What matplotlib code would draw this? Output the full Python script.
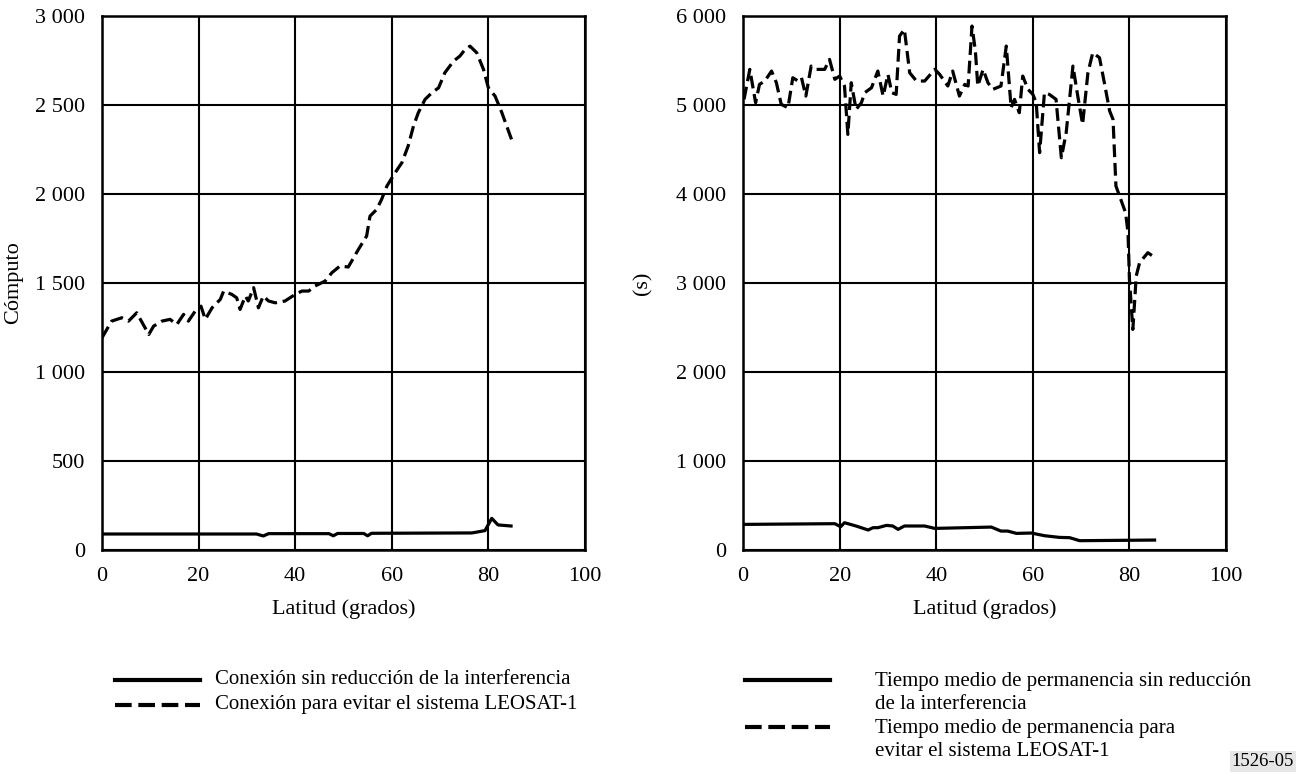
import matplotlib
matplotlib.use("Agg")
import matplotlib.pyplot as plt
from matplotlib.lines import Line2D

plt.rcParams['font.family'] = ['Liberation Serif', 'DejaVu Serif']
plt.rcParams['font.size'] = 16

# left chart: conexiones (count) vs latitude
lat_l_dash = [0, 2, 4.1, 5.5, 7.2, 9.7, 10.7, 12.4, 14.1, 15.5, 16.9, 17.9, 19.3, 20.5, 21.4,
              22.8, 24.5, 25.2, 26.9, 27.9, 28.6, 29.7, 30.3, 31.4, 32.4, 33.4, 34.5, 35.9,
              37.9, 40.0, 41.4, 42.8, 44.1, 46.2, 47.6, 49.3, 51.0, 53.1, 54.8, 55.5, 56.9,
              57.9, 59.0, 60.7, 62.1, 63.4, 64.5, 65.5, 66.9, 68.3, 69.7, 71.0, 72.8, 74.1,
              75.2, 76.2, 77.6, 79.0, 80.0, 81.4, 82.8, 83.8, 84.8]
cnt_dash = [1192, 1286, 1305, 1286, 1333, 1211, 1258, 1286, 1296, 1267, 1324, 1286, 1342, 1370, 1296,
            1361, 1408, 1455, 1436, 1417, 1352, 1427, 1399, 1474, 1361, 1427, 1399, 1389,
            1399, 1436, 1455, 1455, 1483, 1511, 1558, 1596, 1590, 1689, 1764, 1876, 1914,
            1970, 2045, 2120, 2176, 2270, 2382, 2457, 2532, 2569, 2597, 2682, 2747, 2775,
            2813, 2831, 2794, 2700, 2597, 2550, 2457, 2382, 2307]
lat_l_solid = [0, 32, 33.4, 34.5, 47.0, 47.9, 48.8, 54.2, 55.0, 55.8, 76.6, 79.3, 80.7, 82.0, 84.7]
cnt_solid = [90, 90, 79, 92, 92, 80, 93, 93, 80, 94, 96, 109, 178, 141, 135]

# right chart: tiempo medio de permanencia (s) vs latitude
lat_r_dash = [0.2, 1.4, 2.6, 3.4, 4.5, 5.9, 6.9, 7.9, 9.3, 10.3, 11.4, 12.1, 13.0, 14.1, 15.2,
              16.9, 17.9, 19.0, 20.0, 21.0, 21.7, 22.4, 23.4, 24.5, 25.2, 26.6, 27.9, 29.0,
              30.0, 30.8, 31.7, 32.4, 33.4, 34.5, 35.9, 37.6, 39.7, 40.7, 42.4, 43.4, 44.8,
              45.9, 46.6, 47.4, 48.1, 48.6, 49.7, 50.7, 51.7, 53.4, 54.5, 55.5, 56.2, 57.2,
              57.9, 59.0, 60.0, 60.7, 61.4, 62.4, 63.4, 64.8, 65.9, 66.9, 68.3, 69.3, 70.3,
              71.4, 72.4, 73.8, 74.8, 75.9, 76.6, 77.2, 79.2, 79.7, 80.0, 80.7, 81.1, 81.4,
              82.1, 83.8, 84.8]
t_dash = [5064, 5401, 5026, 5232, 5270, 5382, 5251, 5008, 4970, 5307, 5270, 5307, 5101, 5438, 5401,
          5401, 5513, 5289, 5326, 5214, 4670, 5251, 4951, 5026, 5139, 5195, 5382, 5101,
          5345, 5139, 5120, 5775, 5850, 5363, 5270, 5270, 5401, 5345, 5214, 5382, 5101,
          5232, 5214, 5888, 5607, 5214, 5401, 5251, 5176, 5214, 5663, 4970, 5064, 4914,
          5326, 5176, 5120, 5026, 4465, 5139, 5120, 5064, 4408, 4689, 5438, 5101, 4783,
          5363, 5588, 5532, 5251, 4933, 4839, 4090, 3790, 3566, 3041, 2479, 2816, 3079,
          3229, 3341, 3304]
lat_r_solid = [0, 19.0, 20.2, 21.0, 23.4, 25.9, 26.9, 27.9, 29.7, 31.0, 32.1, 33.4, 37.6, 39.7,
               51.4, 53.4, 54.8, 56.6, 59.7, 62.4, 65.5, 67.6, 69.7, 85.2]
t_solid = [288, 296, 262, 307, 270, 225, 251, 251, 277, 270, 232, 270, 270, 243,
           258, 213, 213, 187, 191, 161, 142, 139, 105, 112]

leg_left = ["Conexión sin reducción de la interferencia",
            "Conexión para evitar el sistema LEOSAT-1"]
leg_right = ["Tiempo medio de permanencia sin reducción\nde la interferencia",
             "Tiempo medio de permanencia para\nevitar el sistema LEOSAT-1"]

W, H = 1297, 776
fig = plt.figure(figsize=(W / 100, H / 100), dpi=100)
ax1 = fig.add_axes([0.0786, 0.2912, 0.3724, 0.6881])
ax2 = fig.add_axes([0.5729, 0.2912, 0.3724, 0.6881])

dash = (0, (4, 1.8))

ax1.plot(lat_l_solid, cnt_solid, color="black", lw=2.3)
ax1.plot(lat_l_dash, cnt_dash, color="black", lw=2.3, linestyle=dash)
ax2.plot(lat_r_solid, t_solid, color="black", lw=2.3)
ax2.plot(lat_r_dash, t_dash, color="black", lw=2.3, linestyle=dash)


def fmt(v):
    return "{:,}".format(int(v)).replace(",", " ")


for ax, top, step, ylab, lp in [(ax1, 3000, 500, "Cómputo", 9), (ax2, 6000, 1000, "(s)", 17)]:
    ax.set_xlim(0, 100)
    ax.set_ylim(0, top)
    ax.set_xticks(range(0, 101, 20))
    yt = list(range(0, top + 1, step))
    ax.set_yticks(yt)
    ax.set_yticklabels([fmt(v) for v in yt])
    ax.grid(True, color="black", linewidth=1.5)
    ax.set_axisbelow(True)
    for s in ax.spines.values():
        s.set_linewidth(1.8)
    ax.tick_params(length=0, pad=12, labelsize=16)
    ax.set_xlabel("Latitud (grados)", fontsize=16, labelpad=10)
    ax.set_ylabel(ylab, fontsize=16, labelpad=lp)


def fx(px):
    return px / W


def fy(py):
    return 1 - py / H


# hand-placed legends below the charts
leg_fs = 15
for i, (lab, ls) in enumerate(zip(leg_left, ["-", (0, (4, 1.6))])):
    yy = 680 + 25 * i
    fig.add_artist(Line2D([fx(115), fx(200)], [fy(yy), fy(yy)], color="black", lw=3, linestyle=ls))
    fig.text(fx(215), fy(yy), lab, fontsize=leg_fs, va="center", ha="left")

for yy, lab, ls in zip([680, 727], leg_right, ["-", (0, (4, 1.6))]):
    fig.add_artist(Line2D([fx(745), fx(830)], [fy(yy), fy(yy)], color="black", lw=3, linestyle=ls))
    fig.text(fx(875), fy(yy - 8), lab, fontsize=leg_fs, va="top", ha="left", linespacing=1.3)

fig.text(fx(1294), fy(770), "1526-05", ha="right", va="bottom", fontsize=13.5,
         bbox=dict(facecolor="#e6e6e6", edgecolor="none", pad=1.5))

fig.savefig("out.png", dpi=100)
